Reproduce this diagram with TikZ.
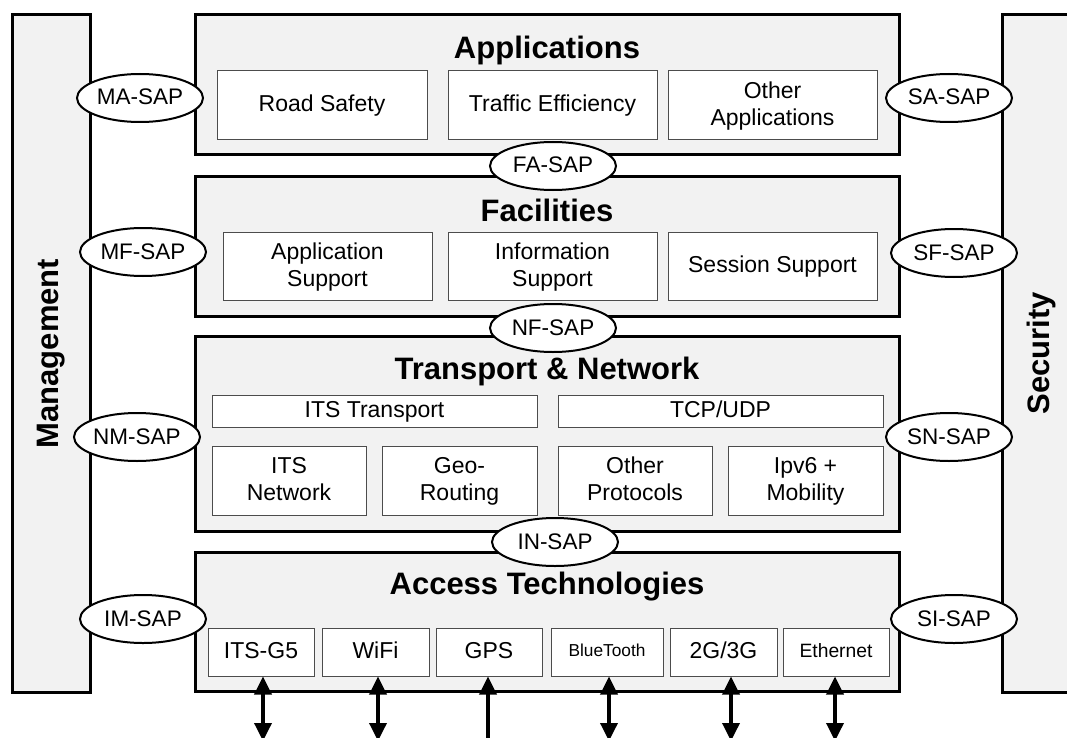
\documentclass[tikz,border=0pt]{standalone}
\usepackage{fontspec}
\setmainfont{Liberation Sans}
\usetikzlibrary{shapes.geometric,positioning,arrows.meta}

\begin{document}
\begin{tikzpicture}[x=1pt,y=-1pt,
    layer/.style={draw,line width=3pt,fill=black!5,inner sep=0pt},
    side/.style={layer,rotate=90,minimum width=677pt,minimum height=78pt,font=\fontsize{31}{36}\selectfont\bfseries},
    title/.style={anchor=base,font=\fontsize{31}{36}\selectfont\bfseries},
    block/.style={draw=black!70,line width=1pt,fill=white,inner sep=0pt,align=center,font=\fontsize{23}{27}\selectfont},
    single/.style={text height=16.5pt,text depth=3.5pt},
    twoline/.style={text height=43.5pt,text depth=3.5pt},
    small/.style={text height=13.5pt,text depth=2.8pt,font=\fontsize{19.3}{22}\selectfont},
    tiny/.style={text height=12.4pt,text depth=2.5pt,font=\fontsize{17.3}{20}\selectfont},
    sap/.style={ellipse,draw,line width=2pt,fill=white,minimum width=126pt,minimum height=48pt,inner sep=0pt,text height=16pt,text depth=2pt,font=\fontsize{22.5}{26}\selectfont},
    link/.style={line width=3.5pt,{Triangle[length=18pt,width=17pt]}-{Triangle[length=18pt,width=17pt]}},
    linkup/.style={line width=3.5pt,-{Triangle[length=18pt,width=17pt]}}]
  \path[use as bounding box] (0,0) rectangle (1067,738);
  \clip (0,0) rectangle (1067,738);

  \node[side] (mgmt) at (51,353.5) {Management};
  \node[side] (sec) at (1041,353.5) {Security};

  \node[layer,minimum width=704pt,minimum height=140pt] (app) at (547,85) {};
  \node[layer,minimum width=704pt,minimum height=139pt] (fac) at (547,246.5) {};
  \node[layer,minimum width=704pt,minimum height=195pt] (net) at (547,433.5) {};
  \node[layer,minimum width=704pt,minimum height=139pt] (acc) at (547,621.5) {};

  \node[title] (app-t) at (547,59) {Applications};
  \node[title] (fac-t) at (547,221) {Facilities};
  \node[title] (net-t) at (547,379) {Transport \& Network};
  \node[title] (acc-t) at (547,594) {Access Technologies};

  \node[block,single,minimum width=210pt,minimum height=69pt] (road) at (322,105.5) {Road Safety};
  \node[block,single,minimum width=209pt,minimum height=69pt] (traffic) at (552.5,105.5) {Traffic Efficiency};
  \node[block,twoline,minimum width=209pt,minimum height=69pt] (otherapp) at (772.5,105.5) {Other\\Applications};

  \node[block,twoline,minimum width=209pt,minimum height=68pt] (appsup) at (327.5,266) {Application\\Support};
  \node[block,twoline,minimum width=209pt,minimum height=68pt] (infosup) at (552.5,266) {Information\\Support};
  \node[block,single,minimum width=209pt,minimum height=68pt] (sesssup) at (772.5,266) {Session Support};

  \node[block,single,minimum width=325pt,minimum height=32pt] (itstrans) at (374.5,411) {ITS Transport};
  \node[block,single,minimum width=325pt,minimum height=32pt] (tcpudp) at (720.5,411) {TCP/UDP};
  \node[block,twoline,minimum width=154pt,minimum height=69pt] (itsnet) at (289,480.5) {ITS\\Network};
  \node[block,twoline,minimum width=155pt,minimum height=69pt] (georout) at (459.5,480.5) {Geo-\\Routing};
  \node[block,twoline,minimum width=154pt,minimum height=69pt] (otherprot) at (635,480.5) {Other\\Protocols};
  \node[block,twoline,minimum width=155pt,minimum height=69pt] (ipv6) at (805.5,480.5) {Ipv6 +\\Mobility};

  \node[block,single,minimum width=106pt,minimum height=48pt] (itsg5) at (261,652) {ITS-G5};
  \node[block,single,minimum width=107pt,minimum height=48pt] (wifi) at (375.5,652) {WiFi};
  \node[block,single,minimum width=106pt,minimum height=48pt] (gps) at (489,652) {GPS};
  \node[block,tiny,minimum width=112pt,minimum height=48pt] (bt) at (607,652) {BlueTooth};
  \node[block,single,minimum width=107pt,minimum height=48pt] (cell) at (723.5,652) {2G/3G};
  \node[block,small,minimum width=106pt,minimum height=48pt] (eth) at (836,652) {Ethernet};

  \node[sap] (ma) at (140,98) {MA-SAP};
  \node[sap] (sa) at (949,98) {SA-SAP};
  \node[sap] (fa) at (553,166) {FA-SAP};
  \node[sap] (mf) at (143,252) {MF-SAP};
  \node[sap] (sf) at (954,253) {SF-SAP};
  \node[sap] (nf) at (553,328) {NF-SAP};
  \node[sap] (nm) at (137,437) {NM-SAP};
  \node[sap] (sn) at (949,437) {SN-SAP};
  \node[sap] (in) at (555,542) {IN-SAP};
  \node[sap] (im) at (143,619) {IM-SAP};
  \node[sap] (si) at (954,619) {SI-SAP};

  \foreach \n/\x in {itsg5/263,wifi/378,gps/488,bt/609,cell/731,eth/835}
    \coordinate (\n-out) at (\x,741);
  \foreach \n in {itsg5,wifi,bt,cell,eth}
    \draw[link] (\n-out) -- (\n.south -| \n-out);
  \draw[linkup] (gps-out) -- (gps.south -| gps-out);
\end{tikzpicture}
\end{document}
